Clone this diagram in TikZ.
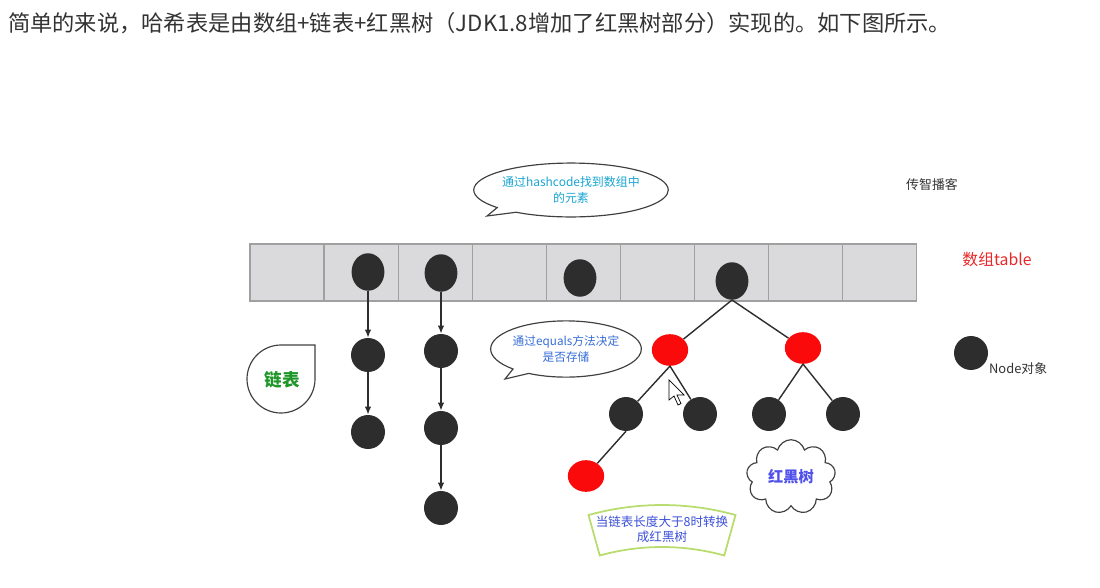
\documentclass[tikz,border=0pt]{standalone}
\usepackage{fontspec}
\setmainfont{Noto Sans CJK SC}
\usetikzlibrary{shapes.geometric,shapes.symbols,shapes.callouts,arrows.meta}
\tikzset{>={Latex[length=7pt,width=5.5pt]}}
\definecolor{txtcol}{RGB}{51,51,51}
\definecolor{nodecol}{RGB}{45,45,45}
\definecolor{myred}{RGB}{250,10,10}
\definecolor{labred}{RGB}{232,40,40}
\definecolor{cellcol}{RGB}{218,218,220}
\definecolor{celledge}{RGB}{160,160,160}
\definecolor{myteal}{RGB}{25,165,210}
\definecolor{myblue}{RGB}{55,110,215}
\definecolor{fanblue}{RGB}{60,80,215}
\definecolor{mygreen}{RGB}{30,150,40}
\definecolor{mypurple}{RGB}{80,80,235}
\definecolor{fancol}{RGB}{185,220,110}
\tikzstyle{cell}=[draw=celledge,fill=cellcol,line width=1pt,minimum width=63.2pt,minimum height=48.7pt,inner sep=0]
\tikzstyle{anode}=[ellipse,fill=nodecol,minimum width=28pt,minimum height=32pt,inner sep=0]
\tikzstyle{bnode}=[circle,fill=nodecol,minimum size=29pt,inner sep=0]
\tikzstyle{rnode}=[ellipse,fill=myred,minimum width=31pt,minimum height=27pt,inner sep=0]
\tikzstyle{link}=[nodecol,line width=1.2pt]
\tikzstyle{bubble}=[ellipse callout,draw=black!75,line width=1pt,fill=white,align=center,inner sep=0]
\def\fs#1#2{\fontsize{#1}{#2}\selectfont}

\begin{document}
\begin{tikzpicture}[x=0.03cm,y=-0.03cm]
  \useasboundingbox (0,0) rectangle (1100,587);
  \node[anchor=west,text=txtcol,font=\fs{19}{22}] (title) at (4,23)
    {简单的来说，哈希表是由数组+链表+红黑树（JDK1.8增加了红黑树部分）实现的。如下图所示。};
  % array table
  \foreach \i in {0,...,8}
    \node[cell] (c\i) at ({287+74.1*\i},272.5) {};
  \node[anode] (a1) at (368,272) {};
  \node[anode] (a2) at (441,273) {};
  \node[anode] (a4) at (580,278) {};
  \node[anode] (t0) at (732,281) {};
  % linked lists
  \node[bnode] (l1a) at (368,355) {};
  \node[bnode] (l1b) at (368,432) {};
  \node[bnode] (l2a) at (441,351) {};
  \node[bnode] (l2b) at (441,428) {};
  \node[bnode] (l2c) at (441,508) {};
  \draw[link,->] (a1) -- (l1a);
  \draw[link,->] (l1a) -- (l1b);
  \draw[link,->] (a2) -- (l2a);
  \draw[link,->] (l2a) -- (l2b);
  \draw[link,->] (l2b) -- (l2c);
  % red-black tree
  \node[rnode] (t1) at (670,350) {};
  \node[rnode] (t2) at (803,348) {};
  \node[bnode] (t3) at (626,414) {};
  \node[bnode] (t4) at (700,414) {};
  \node[bnode] (t5) at (769,414) {};
  \node[bnode] (t6) at (843,414) {};
  \node[rnode] (t7) at (586,476) {};
  \draw[link] (t0.south) -- (t1);
  \draw[link] (t0.south) -- (t2);
  \draw[link] (t1.south) -- (t3);
  \draw[link] (t1.south) -- (t4);
  \draw[link] (t2.south) -- (t5);
  \draw[link] (t2.south) -- (t6);
  \draw[link] (t3.south) -- (t7);
  % labels
  \node[text=txtcol,font=\fs{11}{13}] (brand) at (932,185) {传智播客};
  \node[text=labred,font=\fs{13.5}{16}] (arrlbl) at (997,260) {数组table};
  \node[bnode] (leg) at (971,353) {};
  \node[anchor=west,text=txtcol,font=\fs{11}{13}] (legtxt) at (985,369) {Node对象};
  \node[bubble,minimum width=145pt,minimum height=46pt,callout absolute pointer={(487,216)},
    text=myteal,font=\fs{10.2}{13}] (hash) at (571,190) {通过hashcode找到数组中\\的元素};
  \node[bubble,minimum width=116pt,minimum height=48pt,callout absolute pointer={(505,379)},
    text=myblue,font=\fs{10}{13}] (eq) at (566,349) {通过equals方法决定\\是否存储};
  \draw[black!75,line width=1pt] (315,345) -- (315,379) arc[start angle=0,end angle=270,radius=34] -- cycle;
  \node[text=mygreen,font=\bfseries\fs{15}{18}] (chain) at (282,380) {链表};
  \node[cloud,draw=black!75,line width=1pt,cloud puffs=9,aspect=1.3,minimum width=76pt,minimum height=57pt,
    text=mypurple,font=\bfseries\fs{13}{16}] (rbt) at (791,477) {红黑树};
  \draw[fancol,line width=1.5pt] (662,780) ++(254.5:275) arc[start angle=254.5,end angle=285.5,radius=275]
    -- ++(105.5:42) arc[start angle=285.5,end angle=254.5,radius=233] -- cycle;
  \node[text=fanblue,align=center,font=\fs{10.7}{13}] (fan) at (662,529) {当链表长度大于8时转换\\成红黑树};
  % mouse pointer
  \draw[black,fill=white,line width=0.6pt] (669,380) -- (669,400) -- (674,396) -- (678,405)
    -- (681,403.5) -- (677,395) -- (684,395) -- cycle;
\end{tikzpicture}
\end{document}
